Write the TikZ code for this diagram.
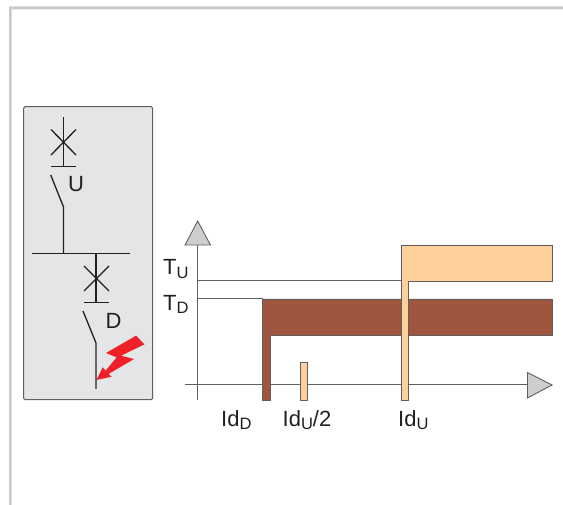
\documentclass[tikz,border=0pt]{standalone}
\usepackage{fontspec}
\setmainfont{Liberation Sans}
\definecolor{frameC}{HTML}{C9C9CA}
\definecolor{panelC}{HTML}{E4E5E7}
\definecolor{edgeC}{HTML}{5F5F5F}
\definecolor{inkC}{HTML}{231F20}
\definecolor{brownC}{HTML}{A0553F}
\definecolor{peachC}{HTML}{FDD09B}
\definecolor{arrowC}{HTML}{CDCECF}
\definecolor{boltC}{HTML}{EE2028}
\newcommand{\sbs}[1]{\raisebox{-3.5pt}{\fontsize{16.5}{17}\selectfont #1}}
\tikzset{
  lab/.style={anchor=base west,inner sep=0pt,text=inkC,font=\fontsize{22}{24}\selectfont},
  sym/.style={draw=inkC,line width=1.3pt},
  guide/.style={draw=edgeC,line width=1pt},
  band/.style={draw=edgeC,line width=0.9pt,line join=miter},
  head/.style={draw=edgeC,line width=0.9pt,fill=arrowC,line join=miter}
}
\begin{document}
\begin{tikzpicture}[x=1pt,y=-1pt]
\useasboundingbox (0,0) rectangle (563,505);
% outer frame
\fill[frameC] (9,505) -- (9,6.5) -- (563,6.5) -- (563,9.5) -- (11.7,9.5) -- (11.7,505) -- cycle;
% panel
\draw[draw=edgeC,line width=1pt,fill=panelC,rounded corners=1.5pt] (23.7,106.7) rectangle (152.7,399.7);
% upper breaker
\draw[sym] (63.5,117) -- (63.5,166.7);
\draw[sym] (51,129.5) -- (76,155);
\draw[sym] (76,129.5) -- (51,155);
\draw[sym] (51,166.7) -- (76,166.7);
\draw[sym] (50.7,175) -- (63.5,207) -- (63.5,254);
% bus
\draw[sym] (32,253.8) -- (130,253.8);
% lower breaker
\draw[sym] (96,253.8) -- (96,302.7);
\draw[sym] (84,266) -- (109,291);
\draw[sym] (109,266) -- (84,291);
\draw[sym] (84,302.7) -- (109,302.7);
\draw[sym] (83,311) -- (96,343) -- (96,389);
% bolt
\fill[boltC] (136,335.7) -- (144.5,344.3) -- (121,355.7) -- (134,359) -- (108.5,374) -- (111.7,376.7) -- (96.5,380) -- (102.7,367.3) -- (105.5,370.7) -- (116.7,357.3) -- (106,353) -- cycle;
\node[lab] (labU) at (68,192) {U};
\node[lab] (labD) at (105.5,329) {D};
% guides and axes
\draw[guide] (197.7,245) -- (197.7,400);
\draw[guide] (185,385) -- (527,385);
\draw[guide] (197.7,281) -- (402,281);
\draw[guide] (197.7,299) -- (262.5,299);
\draw[head] (197.7,221) -- (210.5,245) -- (185,245) -- cycle;
\draw[head] (552,385) -- (527.5,398) -- (527.5,372.5) -- cycle;
% bands
\draw[band,fill=brownC] (262.5,400) -- (262.5,299) -- (552,299) -- (552,335) -- (270,335) -- (270,400) -- cycle;
\draw[band,fill=peachC] (300.5,400) -- (300.5,362) -- (307.5,362) -- (307.5,400) -- cycle;
\draw[band,fill=peachC] (401,400) -- (401,245) -- (552,245) -- (552,281) -- (408.5,281) -- (408.5,400) -- cycle;
% labels
\node[lab] (tu) at (163,275) {T\sbs{U}};
\node[lab] (td) at (163,310.5) {T\sbs{D}};
\node[lab] (idd) at (221,426.5) {Id\sbs{D}};
\node[lab] (idu2) at (282.5,426.5) {Id\sbs{U}/2};
\node[lab] (idu) at (398,426.5) {Id\sbs{U}};
\end{tikzpicture}
\end{document}
